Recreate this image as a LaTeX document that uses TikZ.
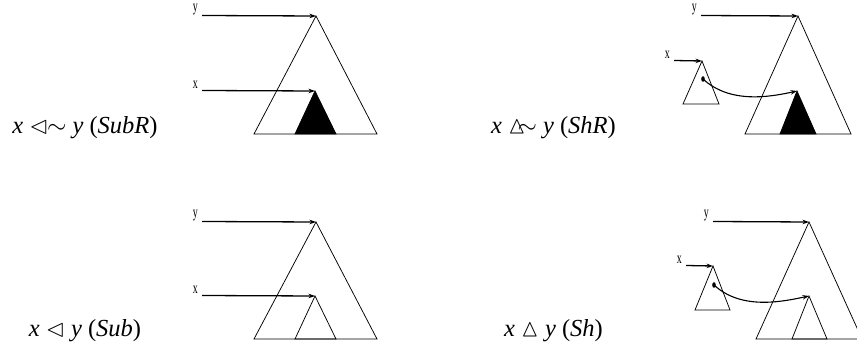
\documentclass[tikz,border=0pt]{standalone}
\usepackage{fontspec}
\usepackage{amssymb}
\setmainfont{Liberation Serif}
\usetikzlibrary{arrows.meta}
\tikzset{
  tri/.style={draw=black, line width=0.75pt, line join=miter},
  blk/.style={fill=black, draw=black, line width=0.75pt},
  ptr/.style={-{Stealth[length=6.5pt,width=4.5pt]}, line width=1.3pt},
  curv/.style={-{Stealth[length=6.5pt,width=4.5pt]}, line width=1.1pt},
  var/.style={font=\fontsize{16}{16}\selectfont, xscale=0.62, transform shape, inner sep=0pt, anchor=base east},
  rel/.style={font=\fontsize{24.5}{28}\selectfont, inner sep=0pt},
  dotp/.style={fill=black, x radius=1.8, y radius=2.8}
}
\begin{document}
\begin{tikzpicture}[x=1pt,y=-1pt]
\useasboundingbox (0,0) rectangle (857,352);

% ---------- Panel 1: SubR ----------
\node[var] (y1) at (198,12) {y};
\coordinate (y1s) at (202,15.5);
\coordinate (A1) at (316,16);
\node[var] (x1) at (198,88.5) {x};
\coordinate (x1s) at (202,90.5);
\coordinate (B1) at (315,91);
\draw[tri] (A1) -- (254,134) -- (377,134) -- cycle;
\draw[blk] (B1) -- (295,134) -- (336,134) -- cycle;
\draw[ptr] (y1s) -- (A1);
\draw[ptr] (x1s) -- (B1);
\node[rel] (l1) at (85,128) {\textit{x} $\lhd\!\!\sim$ \textit{y} (\textit{SubR})};

% ---------- Panel 2: ShR ----------
\node[var] (y2) at (697,12) {y};
\coordinate (y2s) at (701,15.5);
\coordinate (A2) at (798,16);
\node[var] (x2) at (670,58.5) {x};
\coordinate (x2s) at (674,60.5);
\coordinate (C2) at (702,61);
\coordinate (B2) at (797,91);
\draw[tri] (A2) -- (745,134) -- (851,134) -- cycle;
\draw[blk] (B2) -- (780,134) -- (816,134) -- cycle;
\draw[tri] (C2) -- (683,104) -- (719,104) -- cycle;
\draw[ptr] (y2s) -- (A2);
\draw[ptr] (x2s) -- (C2);
\coordinate (D2) at (703,79);
\fill[dotp] (D2) ellipse [];
\draw[curv] (D2) .. controls (730,104) and (770,97) .. (B2);
\node[rel] (l2) at (553.5,128) {\textit{x} $\vartriangle\!\!\sim$ \textit{y} (\textit{ShR})};

% ---------- Panel 3: Sub ----------
\node[var] (y3) at (198,218) {y};
\coordinate (y3s) at (202,221.5);
\coordinate (A3) at (316,222);
\node[var] (x3) at (198,293.5) {x};
\coordinate (x3s) at (202,295.5);
\coordinate (B3) at (315,296);
\draw[tri] (A3) -- (254,339) -- (377,339) -- cycle;
\draw[tri] (B3) -- (295,339) -- (336,339) -- cycle;
\draw[ptr] (y3s) -- (A3);
\draw[ptr] (x3s) -- (B3);
\node[rel] (l3) at (85,331) {\textit{x} $\lhd$ \textit{y} (\textit{Sub})};

% ---------- Panel 4: Sh ----------
\node[var] (y4) at (709,218) {y};
\coordinate (y4s) at (713,221.5);
\coordinate (A4) at (809,222);
\node[var] (x4) at (682,263.5) {x};
\coordinate (x4s) at (686,265.5);
\coordinate (C4) at (713,266);
\coordinate (B4) at (809,296);
\draw[tri] (A4) -- (756,339) -- (862,339) -- cycle;
\draw[tri] (B4) -- (792,339) -- (827,339) -- cycle;
\draw[tri] (C4) -- (695,310) -- (730,310) -- cycle;
\draw[ptr] (y4s) -- (A4);
\draw[ptr] (x4s) -- (C4);
\coordinate (D4) at (714,285);
\fill[dotp] (D4) ellipse [];
\draw[curv] (D4) .. controls (741,310) and (781,302) .. (B4);
\node[rel] (l4) at (553.5,331) {\textit{x} $\vartriangle$ \textit{y} (\textit{Sh})};
\end{tikzpicture}
\end{document}
